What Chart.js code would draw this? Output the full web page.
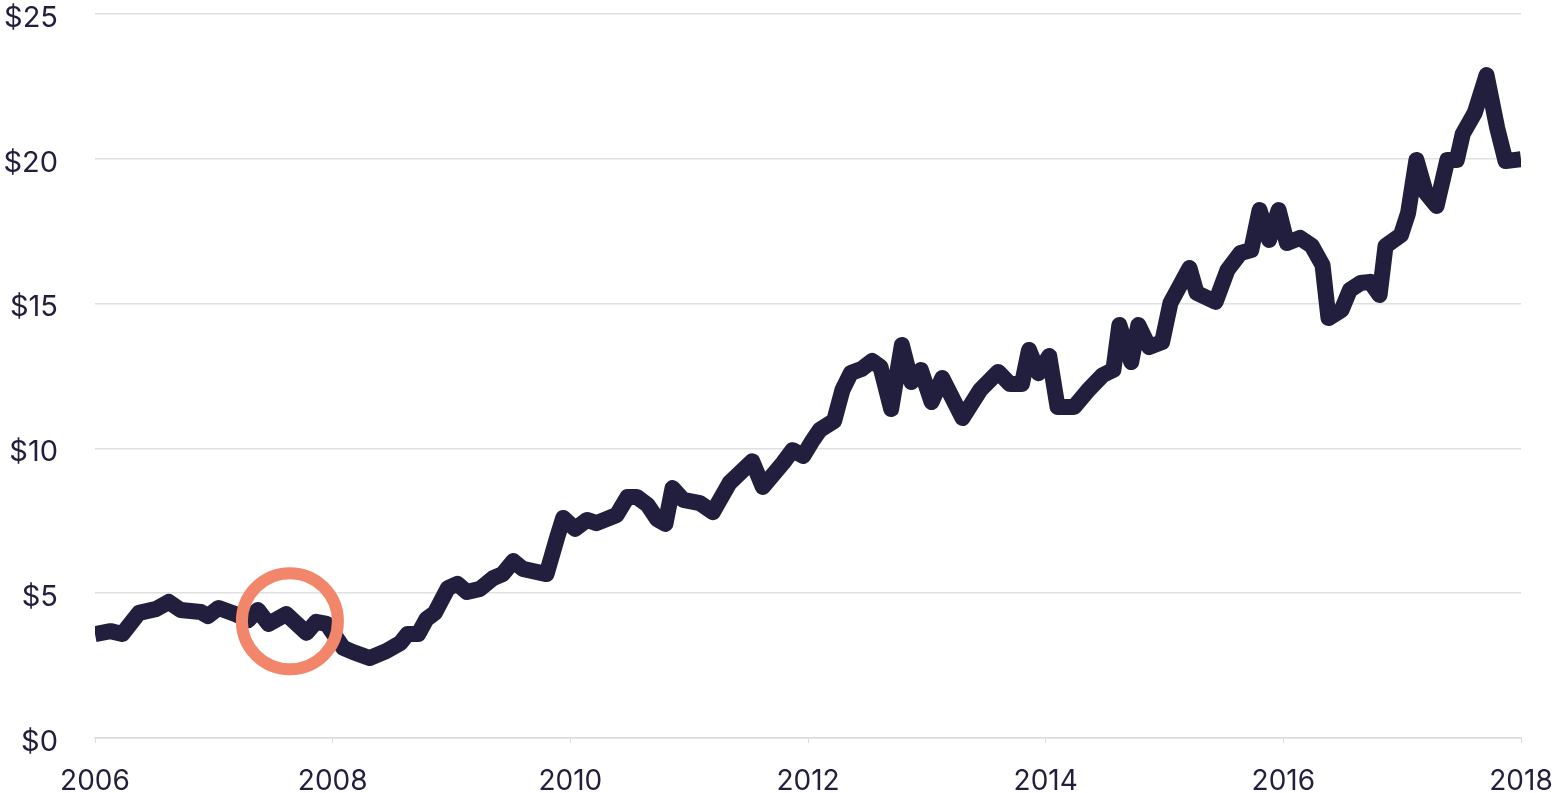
<!DOCTYPE html>
<html>
<head>
<meta charset="utf-8">
<script src="https://cdn.jsdelivr.net/npm/chart.js@4/dist/chart.umd.min.js"></script>
<style>
  html, body { margin: 0; padding: 0; background: #fff; }
  #wrap { width: 1559px; height: 793px; }
</style>
</head>
<body>
<div id="wrap"><canvas id="price-chart"></canvas></div>
<script>
// price over time (decimal years)
const dates = [
  2006.00, 2006.13, 2006.23, 2006.37, 2006.51, 2006.62, 2006.72, 2006.89, 2006.95, 2007.04,
  2007.18, 2007.29, 2007.37, 2007.46, 2007.61, 2007.78, 2007.86, 2007.95, 2008.09, 2008.17,
  2008.31, 2008.45, 2008.57, 2008.63, 2008.72, 2008.79, 2008.86, 2008.97, 2009.05, 2009.13,
  2009.24, 2009.35, 2009.43, 2009.52, 2009.60, 2009.80, 2009.89, 2009.94, 2010.04, 2010.14,
  2010.22, 2010.39, 2010.48, 2010.56, 2010.65, 2010.73, 2010.80, 2010.86, 2010.95, 2011.09,
  2011.20, 2011.34, 2011.53, 2011.62, 2011.79, 2011.87, 2011.96, 2012.03, 2012.10, 2012.22,
  2012.29, 2012.36, 2012.45, 2012.54, 2012.61, 2012.70, 2012.79, 2012.87, 2012.95, 2013.04,
  2013.13, 2013.30, 2013.45, 2013.60, 2013.70, 2013.80, 2013.86, 2013.94, 2014.03, 2014.10,
  2014.24, 2014.36, 2014.48, 2014.57, 2014.62, 2014.72, 2014.78, 2014.87, 2014.98, 2015.05,
  2015.21, 2015.27, 2015.43, 2015.53, 2015.64, 2015.73, 2015.80, 2015.88, 2015.96, 2016.03,
  2016.14, 2016.24, 2016.33, 2016.38, 2016.49, 2016.56, 2016.65, 2016.73, 2016.81, 2016.86,
  2016.99, 2017.05, 2017.12, 2017.20, 2017.29, 2017.38, 2017.46, 2017.51, 2017.61, 2017.71,
  2017.80, 2017.87, 2018.00
];
const prices = [
  3.59, 3.69, 3.59, 4.32, 4.45, 4.70, 4.42, 4.35, 4.21, 4.49,
  4.28, 4.07, 4.42, 3.94, 4.28, 3.63, 4.01, 3.94, 3.11, 2.97,
  2.76, 3.00, 3.28, 3.59, 3.59, 4.11, 4.32, 5.18, 5.32, 5.04,
  5.15, 5.52, 5.66, 6.11, 5.84, 5.66, 6.94, 7.60, 7.22, 7.53,
  7.42, 7.70, 8.32, 8.32, 8.05, 7.56, 7.39, 8.63, 8.22, 8.11,
  7.80, 8.81, 9.56, 8.67, 9.50, 9.94, 9.74, 10.22, 10.64, 10.95,
  12.02, 12.60, 12.74, 13.02, 12.81, 11.36, 13.57, 12.29, 12.71, 11.60,
  12.43, 11.05, 12.02, 12.64, 12.22, 12.22, 13.40, 12.60, 13.19, 11.43,
  11.43, 12.02, 12.53, 12.71, 14.26, 12.98, 14.26, 13.50, 13.67, 15.02,
  16.23, 15.37, 15.06, 16.16, 16.75, 16.85, 18.23, 17.20, 18.23, 17.09,
  17.27, 16.99, 16.33, 14.50, 14.78, 15.47, 15.71, 15.75, 15.30, 16.99,
  17.37, 18.13, 19.96, 18.82, 18.37, 19.96, 19.96, 20.86, 21.58, 22.89,
  21.06, 19.92, 19.99
];

// circled point
const highlightDate = [2007.64];
const highlightPrice = [4.03];

const xTicks = [2006, 2008, 2010, 2012, 2014, 2016, 2018];
const yTicks = [0, 5, 10, 15, 20, 25];

const ink = '#221f3e';
const font = { family: 'Inter, "Noto Sans", sans-serif', size: 28, lineHeight: 1 };

const lineData = dates.map((d, i) => ({ x: d, y: prices[i] }));
const ringData = highlightDate.map((d, i) => ({ x: d, y: highlightPrice[i] }));

new Chart(document.getElementById('price-chart'), {
  type: 'line',
  data: {
    datasets: [
      {
        data: ringData,
        order: 0,
        showLine: false,
        pointRadius: 48,
        pointHoverRadius: 48,
        pointBorderWidth: 12,
        pointBorderColor: '#f2866b',
        pointBackgroundColor: 'rgba(0,0,0,0)',
        clip: false
      },
      {
        data: lineData,
        order: 1,
        borderColor: ink,
        borderWidth: 16,
        borderJoinStyle: 'round',
        borderCapStyle: 'butt',
        pointRadius: 0,
        tension: 0,
        fill: false
      }
    ]
  },
  options: {
    responsive: true,
    maintainAspectRatio: false,
    animation: false,
    layout: { autoPadding: false, padding: { top: 14, right: 38, left: 0, bottom: 0 } },
    plugins: {
      legend: { display: false },
      tooltip: { enabled: false }
    },
    scales: {
      x: {
        type: 'linear',
        min: xTicks[0],
        max: xTicks[xTicks.length - 1],
        afterBuildTicks: s => { s.ticks = xTicks.map(v => ({ value: v })); },
        afterFit: s => { s.height = 55; s.paddingLeft = 0; s.paddingRight = 0; },
        grid: { drawOnChartArea: false, drawTicks: true, tickLength: 5, color: '#dcdcdc' },
        border: { display: true, color: '#dcdcdc', width: 1.5 },
        ticks: { color: ink, font, padding: 25, maxRotation: 0, callback: v => String(v) }
      },
      y: {
        min: yTicks[0],
        max: yTicks[yTicks.length - 1],
        afterBuildTicks: s => { s.ticks = yTicks.map(v => ({ value: v })); },
        afterFit: s => { s.width = 95; s.paddingTop = 0; s.paddingBottom = 0; },
        grid: { drawTicks: false, color: '#e0e0e0', lineWidth: 1.5 },
        border: { display: false },
        ticks: { color: ink, font: { ...font, size: 29 }, padding: 37, labelOffset: 4, callback: v => '$' + v }
      }
    }
  }
});
</script>
</body>
</html>
